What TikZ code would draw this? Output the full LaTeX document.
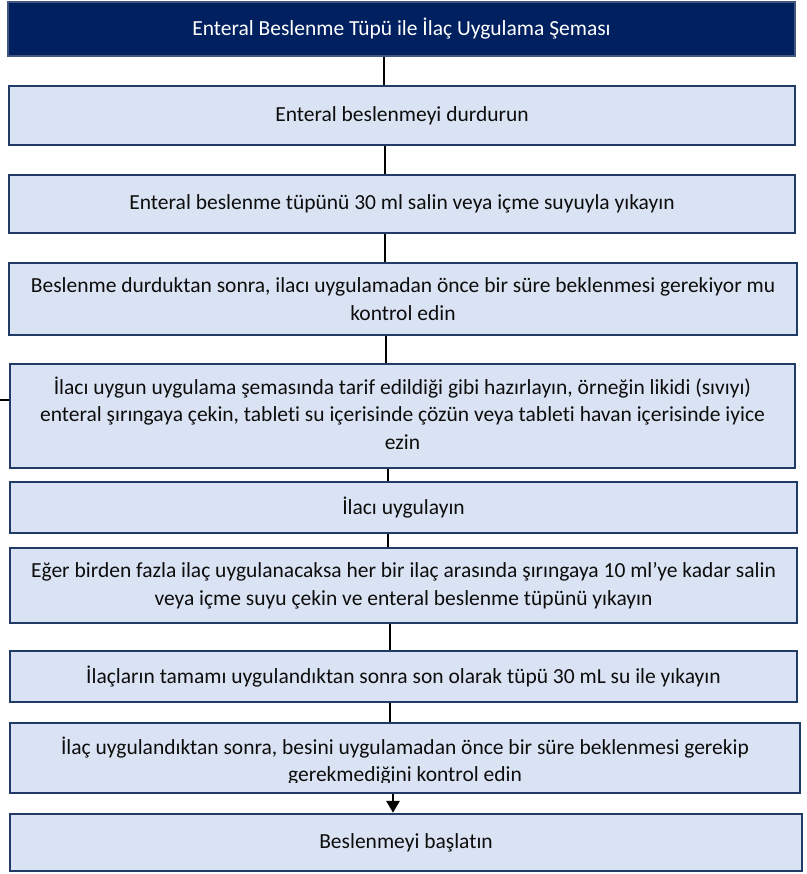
\documentclass[tikz,border=0pt]{standalone}
\usepackage{fontspec}
\setmainfont{Carlito}[Ligatures=NoCommon]
\usetikzlibrary{arrows.meta}
\definecolor{headfill}{HTML}{002060}
\definecolor{headline}{HTML}{42577F}
\definecolor{boxfill}{HTML}{DAE3F3}
\definecolor{boxline}{HTML}{223A66}
\definecolor{txt}{HTML}{0D0D0D}
\newcommand{\stepfont}{\fontsize{21.5}{27.5}\selectfont}
\tikzset{
  stepbox/.style={draw=boxline, line width=2.4pt, fill=boxfill, inner sep=0pt,
    align=center, font=\stepfont, text=txt},
  headbox/.style={draw=headline, line width=2pt, fill=headfill, inner sep=0pt,
    align=center, font=\stepfont, text=white},
  conn/.style={draw=black, line width=2.8pt},
  connarrow/.style={conn, -{Triangle[length=12pt,width=13pt]}},
}
\begin{document}
\begin{tikzpicture}[x=1pt,y=-1pt]
\useasboundingbox (0,0) rectangle (806,874);

\node[headbox, minimum width=787pt, minimum height=54pt] (h) at (401.5,29)
  {Enteral Beslenme Tüpü ile İlaç Uygulama Şeması};

\node[stepbox, minimum width=786pt, minimum height=59pt] (b2) at (402,115.5)
  {Enteral beslenmeyi durdurun};

\node[stepbox, minimum width=786pt, minimum height=58pt] (b3) at (402,204)
  {Enteral beslenme tüpünü 30 ml salin veya içme suyuyla yıkayın};

\node[stepbox, minimum width=788pt, minimum height=72pt] (b4) at (403,299)
  {Beslenme durduktan sonra, ilacı uygulamadan önce bir süre beklenmesi gerekiyor mu\\kontrol edin};

\node[stepbox, minimum width=785pt, minimum height=104pt] (b5) at (402.5,416)
  {};
\node[font=\stepfont, text=txt, align=center, inner sep=0pt] (t5) at ([yshift=3pt]b5.center)
  {İlacı uygun uygulama şemasında tarif edildiği gibi hazırlayın, örneğin likidi (sıvıyı)\\enteral şırıngaya çekin, tableti su içerisinde çözün veya tableti havan içerisinde iyice\\ezin};

\node[stepbox, minimum width=787pt, minimum height=51pt] (b6) at (403.5,507.5)
  {İlacı uygulayın};

\node[stepbox, minimum width=787pt, minimum height=75pt] (b7) at (403.5,585.5)
  {Eğer birden fazla ilaç uygulanacaksa her bir ilaç arasında şırıngaya 10 ml’ye kadar salin\\veya içme suyu çekin ve enteral beslenme tüpünü yıkayın};

\node[stepbox, minimum width=787pt, minimum height=51pt] (b8) at (403.5,676.5)
  {İlaçların tamamı uygulandıktan sonra son olarak tüpü 30 mL su ile yıkayın};

% the second line runs into the lower margin and is cut off there
\node[stepbox, minimum width=790pt, minimum height=70pt,
  path picture={
    \clip ([yshift=10.5pt]path picture bounding box.south west) rectangle (path picture bounding box.north east);
    \node[font=\stepfont, text=txt, align=center, inner sep=0pt]
    at ([yshift=-3pt]path picture bounding box.center)
    {İlaç uygulandıktan sonra, besini uygulamadan önce bir süre beklenmesi gerekip\\gerekmediğini kontrol edin};}]
  (b9) at (405,758) {};

\node[stepbox, minimum width=792pt, minimum height=57pt] (b10) at (406,842.5)
  {Beslenmeyi başlatın};

% connectors between the steps
\draw[conn] ([xshift=-17.5pt]h.south) coordinate (c1) -- (c1 |- b2.north);
\draw[conn] ([xshift=-17pt]b2.south) coordinate (c2) -- (c2 |- b3.north);
\draw[conn] ([xshift=-17pt]b3.south) coordinate (c3) -- (c3 |- b4.north);
\draw[conn] ([xshift=-17pt]b4.south) coordinate (c4) -- (c4 |- b5.north);
\draw[conn] ([xshift=-14.5pt]b5.south) coordinate (c5) -- (c5 |- b6.north);
\draw[conn] ([xshift=-15.5pt]b6.south) coordinate (c6) -- (c6 |- b7.north);
\draw[conn] ([xshift=-13.5pt]b7.south) coordinate (c7) -- (c7 |- b8.north);
\draw[conn] ([xshift=-13.5pt]b8.south) coordinate (c8) -- (c8 |- b9.north);
\draw[connarrow] ([xshift=-12pt]b9.south) coordinate (c9) -- (c9 |- b10.north);

% short lead-in on the left of the preparation step
\coordinate (stub) at (0,400);
\draw[conn] (stub) -- (stub -| b5.west);
\end{tikzpicture}
\end{document}
